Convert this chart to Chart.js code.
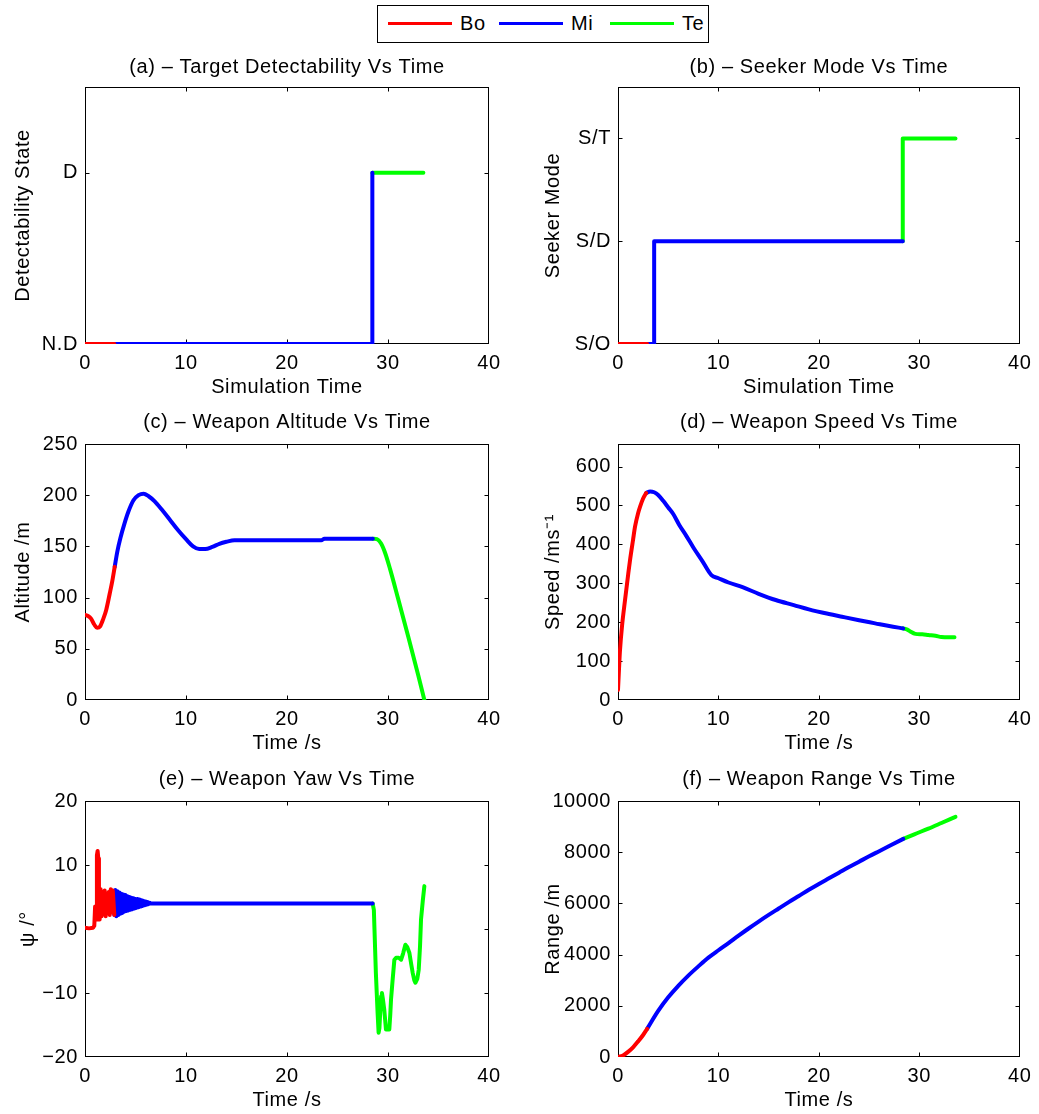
<!DOCTYPE html>
<html><head><meta charset="utf-8">
<script src="https://cdn.jsdelivr.net/npm/chart.js@4.4.1/dist/chart.umd.min.js"></script>
<style>
html,body{margin:0;padding:0;background:#fff;}
body{width:1039px;height:1114px;position:relative;overflow:hidden;font-family:'Liberation Sans',Arial,Helvetica,sans-serif;}
canvas{position:absolute;}
#legend{position:absolute;left:377px;top:5px;width:332px;height:38px;border:1px solid #000;box-sizing:border-box;background:#fff;}
.sw{position:absolute;top:16px;height:3px;width:64px;}
.lt{position:absolute;top:6px;font-size:20px;line-height:22px;letter-spacing:0.6px;color:#000;}
</style></head><body>
<div id="legend"></div>
<script>
// ---------- data ----------
const phaseNames = ['Bo', 'Mi', 'Te'];
const phaseColors = ['#ff0000', '#0000ff', '#00ff00'];
const timeTicks = [0, 10, 20, 30, 40];

// (a) target detectability
const detTicks = [0, 1];
const detTickLabels = ['N.D', 'D'];
const detBoT = [0, 2.9];
const detBoY = [0, 0];
const detMiT = [2.9, 28.45, 28.45];
const detMiY = [0, 0, 1];
const detTeT = [28.45, 33.5];
const detTeY = [1, 1];

// (b) seeker mode
const skrTicks = [0, 1, 2];
const skrTickLabels = ['S/O', 'S/D', 'S/T'];
const skrBoT = [0, 2.9];
const skrBoY = [0, 0];
const skrMiT = [2.9, 3.6, 3.6, 28.35];
const skrMiY = [0, 0, 1, 1];
const skrTeT = [28.35, 28.35, 33.6];
const skrTeY = [1, 2, 2];

// (c) altitude
const altTicks = [0, 50, 100, 150, 200, 250];
const altBoT = [0, 0.3, 0.6, 0.9, 1.2, 1.5, 1.8, 2.1, 2.45, 2.7, 2.94];
const altBoY = [83, 82, 79.5, 74, 70.5, 72, 79, 88, 104, 116, 130];
const altMiT = [2.94, 3.2, 3.5, 3.9, 4.3, 4.8, 5.3, 5.8, 6.3, 6.9, 7.6, 8.4, 9.2, 10.0, 10.7, 11.3, 11.9, 12.6, 13.3, 14.0, 14.8, 16, 18, 20, 23.4, 23.7, 25, 27, 28.5];
const altMiY = [130, 145, 158, 172, 184, 195, 200, 201.5, 199, 194, 186, 176, 166, 157, 150, 147.5, 147.5, 149.5, 152.5, 154.5, 156, 156, 156, 156, 156, 157.5, 157.5, 157.5, 157.5];
const altTeT = [28.5, 28.9, 29.3, 29.7, 30.2, 31, 32, 33, 33.6];
const altTeY = [157.5, 157, 153, 144, 128, 99, 62, 24, 0];

// (d) speed
const spdTicks = [0, 100, 200, 300, 400, 500, 600];
const spdBoT = [0, 0.1, 0.2, 0.4, 0.7, 1.0, 1.2, 1.5, 1.7, 2.0, 2.2, 2.5, 2.8];
const spdBoY = [26, 80, 128, 190, 257, 320, 360, 412, 446, 480, 497, 518, 532];
const spdMiT = [2.8, 3.2, 3.6, 4.0, 4.5, 5.0, 5.5, 6.1, 6.8, 7.5, 8.4, 9.3, 10, 11, 12.4, 14, 15.7, 17.5, 19, 21, 22.3, 24, 25.6, 27, 28.4];
const spdMiY = [532, 536, 534, 527, 512, 495, 478, 450, 422, 392, 357, 321, 313, 302, 290, 273, 257, 244, 233, 221, 214, 205, 197, 190, 184];
const spdTeT = [28.4, 28.8, 29.1, 29.6, 30.3, 30.9, 31.6, 32.2, 32.9, 33.5];
const spdTeY = [184, 181, 176, 170, 169, 167, 165, 162, 161, 161];

// (e) yaw
const yawTicks = [-20, -10, 0, 10, 20];
const yawBoT = [0, 0.4, 0.8, 0.92, 1.0, 1.1, 1.18, 1.25, 1.32, 1.38, 1.45, 1.55, 1.65, 1.75, 1.85, 1.95, 2.05, 2.15, 2.25, 2.35, 2.45, 2.55, 2.65, 2.75, 2.9];
const yawBoY = [0.2, 0.1, 0.2, 0.5, 3.5, 1.5, 11.5, 12.2, 11.0, 4.0, 1.5, 6.2, 2.0, 5.8, 2.4, 6.0, 2.0, 5.5, 2.5, 5.8, 2.2, 6.2, 2.6, 6.0, 2.2];
const yawMiT = [2.9, 3.0, 3.1, 3.2, 3.3, 3.4, 3.5, 3.6, 3.7, 3.8, 3.9, 4.0, 4.1, 4.2, 4.3, 4.4, 4.5, 4.6, 4.7, 4.8, 4.9, 5.0, 5.1, 5.2, 5.3, 5.4, 5.5, 5.6, 5.7, 5.8, 5.9, 6.0, 6.1, 6.2, 6.3, 6.4, 6.5, 15, 28.48];
const yawMiY = [2.2, 6.1, 2.0, 5.9, 2.2, 5.7, 2.4, 5.5, 2.5, 5.4, 2.7, 5.3, 2.8, 5.1, 2.9, 5.0, 3.0, 4.9, 3.1, 4.8, 3.2, 4.7, 3.3, 4.7, 3.4, 4.6, 3.5, 4.5, 3.6, 4.4, 3.7, 4.3, 3.8, 4.2, 3.9, 4.1, 4.0, 4.0, 4.0];
const yawTeT = [28.48, 28.6, 28.66, 28.8, 28.97, 29.07, 29.15, 29.23, 29.32, 29.4, 29.5, 29.63, 29.8, 29.95, 30.13, 30.22, 30.3, 30.46, 30.63, 30.8, 31.06, 31.3, 31.5, 31.72, 31.9, 32.12, 32.3, 32.45, 32.6, 32.71, 32.9, 33.04, 33.17, 33.27, 33.45, 33.6];
const yawTeY = [4, 3, 0, -6.9, -13.1, -16.2, -15.5, -13, -10.5, -10, -11, -12.6, -15.7, -15.7, -15.7, -13.5, -11, -7.9, -4.8, -4.5, -4.5, -4.8, -3.8, -2.45, -2.8, -3.75, -5.5, -6.9, -8, -8.4, -7.8, -6.4, -2.7, 1.5, 4.5, 6.7];

// (f) range
const rngTicks = [0, 2000, 4000, 6000, 8000, 10000];
const rngBoT = [0, 0.5, 1.0, 1.5, 2.0, 2.5, 2.9];
const rngBoY = [0, 60, 200, 380, 610, 860, 1100];
const rngMiT = [2.9, 4, 5, 6, 7, 8, 9, 10, 11, 12, 13, 14, 15, 16, 17, 18, 19, 20, 21, 22, 23, 24, 25, 26, 27, 28.4];
const rngMiY = [1100, 1800, 2330, 2780, 3180, 3540, 3880, 4170, 4450, 4740, 5020, 5290, 5550, 5800, 6050, 6290, 6530, 6760, 6980, 7200, 7420, 7630, 7840, 8040, 8240, 8520];
const rngTeT = [28.4, 29.5, 30.9, 32.2, 33.6];
const rngTeY = [8520, 8700, 8920, 9140, 9380];

// ---------- legend ----------
const lg = document.getElementById('legend');
phaseNames.forEach((n, i) => {
  const sw = document.createElement('div');
  sw.className = 'sw'; sw.style.left = (10 + i * 111) + 'px'; sw.style.background = phaseColors[i];
  const tx = document.createElement('div');
  tx.className = 'lt'; tx.style.left = (82 + i * 111) + 'px'; tx.textContent = n;
  lg.appendChild(sw); lg.appendChild(tx);
});

// ---------- charts ----------
Chart.defaults.font.family = "'Liberation Sans', Arial, Helvetica, sans-serif";
Chart.defaults.font.size = 20;
Chart.defaults.color = '#000';

const spacing = {
  id: 'spacing',
  beforeUpdate(chart) { chart.ctx.letterSpacing = '0.6px'; },
  beforeDraw(chart) { chart.ctx.letterSpacing = '0.6px'; }
};

const frame = {
  id: 'frame',
  beforeDatasetsDraw(chart) {
    const {ctx, chartArea: a} = chart;
    const xs = chart.scales.x, ys = chart.scales.y;
    ctx.save();
    ctx.strokeStyle = '#000'; ctx.lineWidth = 1;
    const L = Math.round(a.left) + 0.5, R = Math.round(a.right) - 0.5;
    const T = Math.round(a.top) + 0.5, B = Math.round(a.bottom) - 0.5;
    ctx.strokeRect(L, T, R - L, B - T);
    ctx.beginPath();
    xs.ticks.forEach(t => {
      const p = Math.round(xs.getPixelForValue(t.value)) + 0.5;
      if (p > L + 1 && p < R - 1) { ctx.moveTo(p, B); ctx.lineTo(p, B - 4); ctx.moveTo(p, T); ctx.lineTo(p, T + 4); }
    });
    ys.ticks.forEach(t => {
      const p = Math.round(ys.getPixelForValue(t.value)) + 0.5;
      if (p > T + 1 && p < B - 1) { ctx.moveTo(L, p); ctx.lineTo(L + 4, p); ctx.moveTo(R, p); ctx.lineTo(R - 4, p); }
    });
    ctx.stroke();
    ctx.restore();
  }
};

const fmtNum = v => String(v).replace('-', '\u2212');

const colL = {left: 0, w: 519, yW: 85, padR: 30, yTitlePt: 11};
const colR = {left: 519, w: 520, yW: 99, padR: 17, yTitlePt: 22};
const row1 = {top: 45, h: 354, titlePt: 10, titlePb: 8};
const row2 = {top: 400, h: 355, titlePt: 10, titlePb: 10};
const row3 = {top: 757, h: 355, titlePt: 10, titlePb: 10};

const panels = [
  {col: colL, row: row1, title: '(a) – Target Detectability Vs Time', xTitle: 'Simulation Time', yTitle: 'Detectability State',
   series: [[detBoT, detBoY], [detMiT, detMiY], [detTeT, detTeY]], yMin: 0, yMax: 1.5, yTicks: detTicks, yLabels: detTickLabels, smooth: false},
  {col: colR, row: row1, title: '(b) – Seeker Mode Vs Time', xTitle: 'Simulation Time', yTitle: 'Seeker Mode',
   series: [[skrBoT, skrBoY], [skrMiT, skrMiY], [skrTeT, skrTeY]], yMin: 0, yMax: 2.5, yTicks: skrTicks, yLabels: skrTickLabels, smooth: false},
  {col: colL, row: row2, title: '(c) – Weapon Altitude Vs Time', xTitle: 'Time /s', yTitle: 'Altitude /m',
   series: [[altBoT, altBoY], [altMiT, altMiY], [altTeT, altTeY]], yMin: 0, yMax: 250, yTicks: altTicks, smooth: true},
  {col: colR, row: row2, title: '(d) – Weapon Speed Vs Time', xTitle: 'Time /s', yTitle: 'Speed /ms⁻¹',
   series: [[spdBoT, spdBoY], [spdMiT, spdMiY], [spdTeT, spdTeY]], yMin: 0, yMax: 658, yTicks: spdTicks, smooth: true},
  {col: colL, row: row3, title: '(e) – Weapon Yaw Vs Time', xTitle: 'Time /s', yTitle: 'ψ /°', yTitlePt: 16,
   series: [[yawBoT, yawBoY], [yawMiT, yawMiY], [yawTeT, yawTeY]], yMin: -20, yMax: 20, yTicks: yawTicks, smooth: false},
  {col: colR, row: row3, title: '(f) – Weapon Range Vs Time', xTitle: 'Time /s', yTitle: 'Range /m',
   series: [[rngBoT, rngBoY], [rngMiT, rngMiY], [rngTeT, rngTeY]], yMin: 0, yMax: 10000, yTicks: rngTicks, smooth: true}
];

panels.forEach(p => {
  const c = p.col, r = p.row;
  const cv = document.createElement('canvas');
  cv.width = c.w; cv.height = r.h;
  cv.style.left = c.left + 'px'; cv.style.top = r.top + 'px';
  cv.style.width = c.w + 'px'; cv.style.height = r.h + 'px';
  document.body.appendChild(cv);
  new Chart(cv, {
    type: 'line',
    data: {
      datasets: p.series.map((s, i) => ({
        label: phaseNames[i],
        data: s[0].map((t, k) => ({x: t, y: s[1][k]})),
        borderColor: phaseColors[i],
        backgroundColor: phaseColors[i],
        borderWidth: 4,
        pointRadius: 0,
        fill: false,
        tension: p.smooth ? 0.4 : 0,
        cubicInterpolationMode: p.smooth ? 'monotone' : 'default',
        borderJoinStyle: 'round',
        borderCapStyle: 'round'
      }))
    },
    options: {
      responsive: false,
      animation: false,
      devicePixelRatio: 1,
      layout: {padding: {left: 0, top: 0, bottom: 0, right: c.padR}},
      plugins: {
        legend: {display: false},
        tooltip: {enabled: false},
        title: {display: true, text: p.title, fullSize: false, color: '#000',
                font: {size: 20, weight: 'normal', lineHeight: 1.2},
                padding: {top: r.titlePt, bottom: r.titlePb}}
      },
      scales: {
        x: {
          type: 'linear', min: 0, max: 40,
          grid: {display: false, drawTicks: false}, border: {display: false},
          afterBuildTicks: s => { s.ticks = timeTicks.map(v => ({value: v})); },
          afterFit: s => { s.height = 55; },
          ticks: {padding: 7.5, autoSkip: false, maxRotation: 0, color: '#000', callback: v => fmtNum(v)},
          title: {display: true, text: p.xTitle, color: '#000', font: {size: 20, lineHeight: 1.2}, padding: {top: 0, bottom: 0}}
        },
        y: {
          type: 'linear', min: p.yMin, max: p.yMax,
          grid: {display: false, drawTicks: false}, border: {display: false},
          afterBuildTicks: s => { s.ticks = p.yTicks.map(v => ({value: v})); },
          afterFit: s => { s.width = c.yW; },
          ticks: {padding: 7, autoSkip: false, color: '#000',
                  callback: p.yLabels ? (v => p.yLabels[p.yTicks.indexOf(v)]) : (v => fmtNum(v))},
          title: {display: true, text: p.yTitle, color: '#000', font: {size: 20, lineHeight: 1.2},
                  padding: {top: p.yTitlePt !== undefined ? p.yTitlePt : c.yTitlePt, bottom: 0}}
        }
      }
    },
    plugins: [spacing, frame]
  });
});
</script>
</body></html>
